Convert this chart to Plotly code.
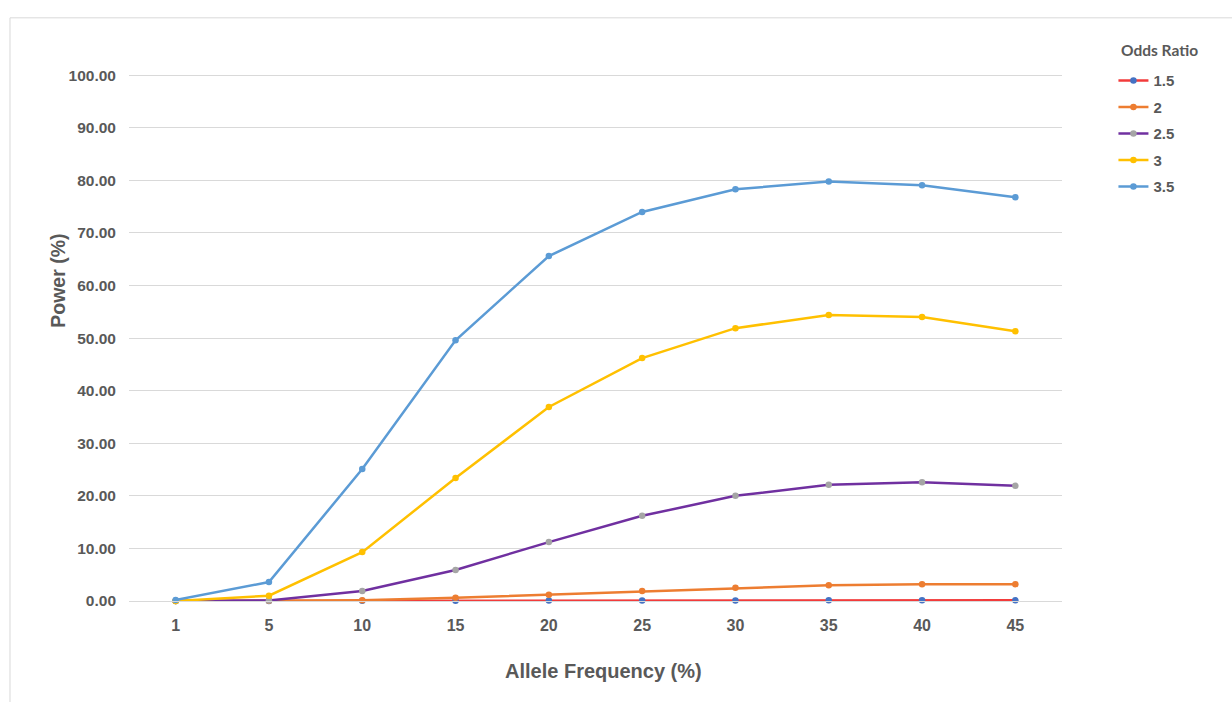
import plotly.graph_objects as go

# Allele frequency categories (%) on the x axis
allele_freq = ["1", "5", "10", "15", "20", "25", "30", "35", "40", "45"]

# Statistical power (%) for each odds ratio
power_or_1_5 = [0.0, 0.02, 0.04, 0.06, 0.08, 0.10, 0.11, 0.12, 0.12, 0.12]
power_or_2 = [0.0, 0.05, 0.15, 0.6, 1.2, 1.9, 2.5, 3.0, 3.2, 3.2]
power_or_2_5 = [0.0, 0.1, 1.9, 5.9, 11.2, 16.2, 20.0, 22.1, 22.6, 21.9]
power_or_3 = [0.0, 1.0, 9.3, 23.4, 36.9, 46.2, 51.9, 54.4, 54.0, 51.3]
power_or_3_5 = [0.2, 3.6, 25.1, 49.6, 65.6, 74.0, 78.3, 79.8, 79.1, 76.8]

series_names = ["1.5", "2", "2.5", "3", "3.5"]
series_values = [power_or_1_5, power_or_2, power_or_2_5, power_or_3, power_or_3_5]
line_colors = ["#F23B3B", "#ED7D31", "#7030A0", "#FFC000", "#5B9BD5"]
marker_colors = ["#4472C4", "#ED7D31", "#A5A5A5", "#FFC000", "#5B9BD5"]

y_ticks = [0, 10, 20, 30, 40, 50, 60, 70, 80, 90, 100]
y_tick_text = [f"{v:.2f}" for v in y_ticks]

W, H = 1232, 702
L, R, T, B = 129.4, 1061.6, 69.7, 601.0

fig = go.Figure()
for i, (name, vals) in enumerate(zip(series_names, series_values)):
    fig.add_trace(go.Scatter(
        x=allele_freq, y=vals, name=name, mode="lines+markers",
        line=dict(color=line_colors[i], width=2.5),
        marker=dict(color=marker_colors[i], size=6.5),
        cliponaxis=False, legendgroup=name,
    ))

text_gray = "#595959"
grid_gray = "#D9D9D9"


def px_x(p):
    return (p - L) / (R - L)


def px_y(p):
    return (B - p) / (B - T)


fig.update_layout(
    width=W, height=H,
    margin=dict(l=L, r=W - R, t=T, b=H - B, pad=0),
    plot_bgcolor="white", paper_bgcolor="white",
    font=dict(family="Liberation Sans, Arial, sans-serif", color=text_gray),
    showlegend=True,
    legend=dict(
        font=dict(size=15, color=text_gray, family="Liberation Sans, Arial, sans-serif", weight="bold"),
        x=px_x(1113), xanchor="left",
        y=px_y(64), yanchor="top",
        tracegroupgap=4, itemwidth=30,
        bgcolor="rgba(0,0,0,0)",
    ),
    xaxis=dict(
        type="category", range=[-0.5, 9.5],
        showgrid=False, showline=True, linecolor=grid_gray, linewidth=1,
        ticks="", ticklabelstandoff=10,
        tickfont=dict(size=16, color=text_gray, family="Liberation Sans, Arial, sans-serif", weight="bold"),
    ),
    yaxis=dict(
        range=[0, 101], tickvals=y_ticks, ticktext=y_tick_text,
        showgrid=True, gridcolor=grid_gray, gridwidth=1,
        zeroline=True, zerolinecolor=grid_gray, zerolinewidth=1,
        showline=False, ticks="", ticklabelstandoff=12,
        tickfont=dict(size=15.5, color=text_gray, family="Liberation Sans, Arial, sans-serif", weight="bold"),
    ),
)

# Legend heading
fig.add_annotation(
    text="<b>Odds Ratio</b>", xref="paper", yref="paper",
    x=px_x(1119), y=px_y(50), xanchor="left", yanchor="middle",
    showarrow=False, font=dict(family="Lato, sans-serif", size=15.5, color=text_gray),
)
fig.add_annotation(
    text="<b>Allele Frequency (%)</b>", xref="paper", yref="paper",
    x=px_x(603), y=px_y(671), xanchor="center", yanchor="middle",
    showarrow=False, font=dict(size=20, color=text_gray),
)
fig.add_annotation(
    text="<b>Power (%)</b>", xref="paper", yref="paper",
    x=px_x(59), y=px_y(281), xanchor="center", yanchor="middle",
    textangle=-90, showarrow=False, font=dict(size=19.5, color=text_gray),
)

# Thin outer chart border
fig.add_shape(
    type="rect", xref="paper", yref="paper",
    x0=px_x(10.5), x1=px_x(1260), y0=px_y(17.5), y1=px_y(740),
    line=dict(color=grid_gray, width=1), fillcolor="rgba(0,0,0,0)", layer="below",
)

fig.write_html("out.html")
